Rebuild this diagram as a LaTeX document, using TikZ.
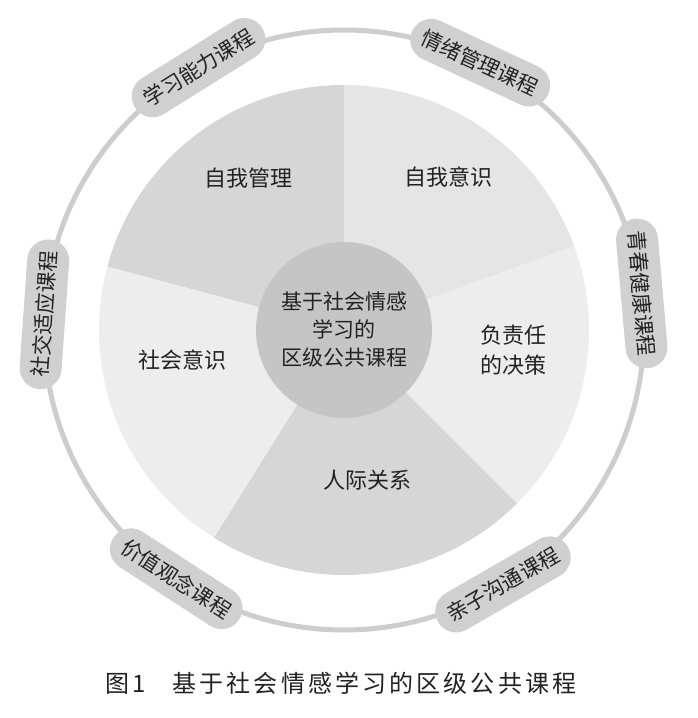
\documentclass[tikz,border=0pt]{standalone}
\usepackage{fontspec}
\setmainfont{Noto Sans CJK SC}
\usepackage{xcolor}
\usetikzlibrary{calc, positioning}

\definecolor{ringgray}{HTML}{CDCDCD}
\definecolor{pillgray}{HTML}{D0D0D0}
\definecolor{hubgray}{HTML}{C5C5C5}
\definecolor{darksec}{HTML}{D6D6D6}
\definecolor{midsec}{HTML}{E5E5E5}
\definecolor{lightsec}{HTML}{EDEDED}
\definecolor{inkgray}{HTML}{222222}

\begin{document}
\begin{tikzpicture}[x=1pt,y=1pt,
  pill/.style={fill=pillgray, rounded corners=21pt, minimum width=150pt,
    minimum height=42pt, inner sep=0pt, text=inkgray,
    font=\fontsize{21}{21}\selectfont},
  seclabel/.style={text=inkgray, align=center,
    font=\fontsize{22}{30}\selectfont}]
\useasboundingbox (0,0) rectangle (698,718);
\def\rpie{245}
\def\rring{300}
\def\rhub{88}
\coordinate (O) at (344,388);

% outer ring
\draw[ringgray, line width=5pt] (O) circle (\rring);

% five sectors
\foreach \a/\b/\c in {20/90/midsec, 90/165/darksec, 165/238/lightsec,
                      238/315/darksec, 315/380/lightsec}{
  \fill[\c] (O) -- ++(\a:\rpie) arc[start angle=\a, end angle=\b, radius=\rpie] -- cycle;
}

% hub
\fill[hubgray] (O) circle (\rhub);
\node[seclabel, font=\fontsize{21}{28}\selectfont] (hub) at (O)
  {基于社会情感\\学习的\hspace*{0.9em}\\区级公共课程};

\node[seclabel] (selfmgmt) at (248,540) {自我管理};
\node[seclabel] (selfaware) at (448,541) {自我意识};
\node[seclabel] (socaware) at (182,358) {社会意识};
\node[seclabel] (decision) at (513,368) {负责任\\的决策};
\node[seclabel] (relation) at (367,238) {人际关系};

% courses on the ring
\node[pill, rotate=32] (learn) at ($(O)+(119:\rring)$) {学习能力课程};
\node[pill, rotate=-25] (emotion) at ($(O)+(63:\rring)$) {情绪管理课程};
\node[pill, rotate=-85] (youth) at ($(O)+(7:\rring)$) {青春健康课程};
\node[pill, rotate=30] (parent) at ($(O)+(-58:\rring)$) {亲子沟通课程};
\node[pill, rotate=-33] (values) at ($(O)+(236:\rring)$) {价值观念课程};
\node[pill, rotate=86] (social) at ($(O)+(177:\rring)$) {社交适应课程};

% caption
\node[text=inkgray, font=\fontsize{24}{24}\selectfont\addfontfeature{LetterSpace=13}]
  (caption) at (341,35) {图1\hspace{1.1em}基于社会情感学习的区级公共课程};
\end{tikzpicture}
\end{document}
